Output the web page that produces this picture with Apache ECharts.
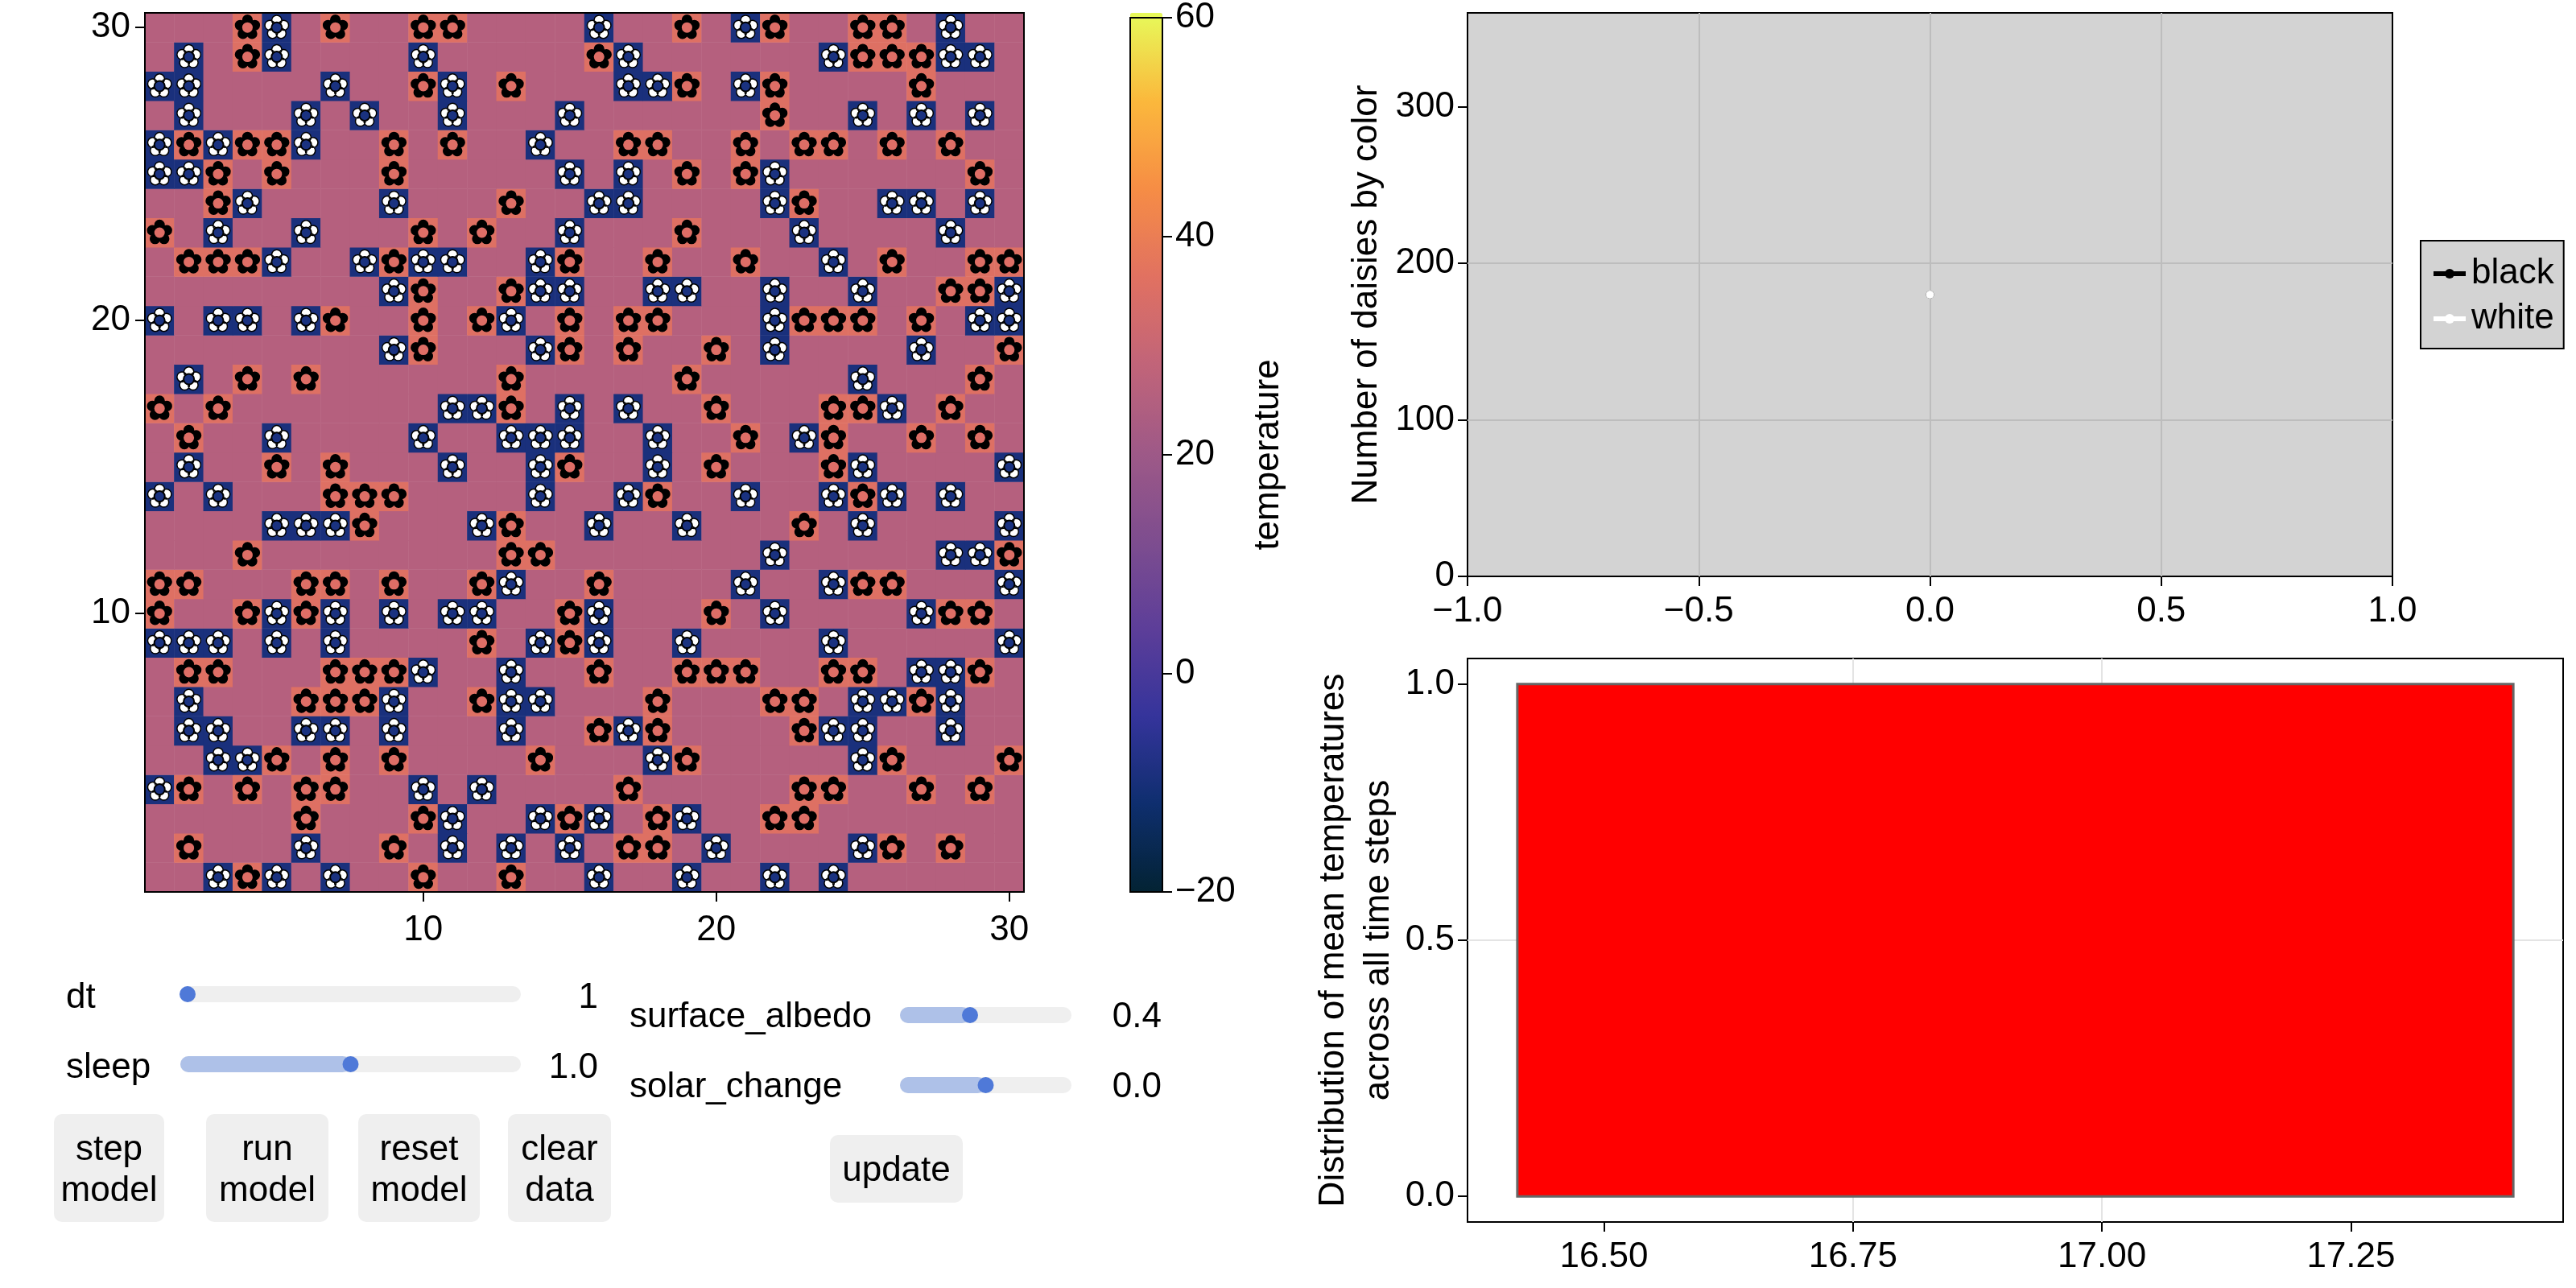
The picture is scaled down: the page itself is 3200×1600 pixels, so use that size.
<!DOCTYPE html>
<html>
<head>
<meta charset="utf-8">
<title>Daisyworld</title>
<script src="https://cdn.jsdelivr.net/npm/echarts@6/dist/echarts.min.js"></script>
<style>
  html, body { margin: 0; padding: 0; background: #fff; }
  #main { width: 3200px; height: 1600px; }
</style>
</head>
<body>
<div id="main"></div>
<script>
// grid columns holding a daisy, one list per row, row 30 first
var blackDaisies = [
  [4,7,10,11,19,22,25,26],
  [4,16,25,26,27],
  [10,13,19,22,27],
  [22],
  [2,4,5,9,11,17,18,21,23,24,26,28],
  [3,5,9,19,21,29],
  [3,13,23],
  [1,10,12,19],
  [2,3,4,9,15,18,21,26,29,30],
  [10,13,28,29],
  [7,10,12,15,17,18,23,24,25,27],
  [10,15,17,20,30],
  [4,6,13,19,29],
  [1,3,13,20,24,25,28],
  [2,21,24,27,29],
  [5,7,15,20,24],
  [7,8,9,18,25],
  [8,13,23],
  [4,13,14,30],
  [1,2,6,7,9,12,16,25,26],
  [1,4,6,15,20,28,29],
  [12,15],
  [2,3,7,8,9,16,19,20,21,24,25,29],
  [6,7,8,12,18,22,23,27],
  [16,18,23],
  [5,7,9,14,19,26,30],
  [2,4,6,7,17,23,24,27,29],
  [6,10,15,18,22,23],
  [2,9,17,18,26,28],
  [4,10,13]
];
var whiteDaisies = [
  [5,16,21,28],
  [2,5,10,17,24,28,29],
  [1,2,7,11,17,18,21],
  [2,6,8,11,15,25,27,29],
  [1,3,6,14],
  [1,2,15,17,22],
  [4,9,16,17,22,26,27,29],
  [3,6,15,23,28],
  [5,8,10,11,14,24],
  [9,14,15,18,19,22,25,30],
  [1,3,4,6,13,22,29,30],
  [9,14,22,27],
  [2,25],
  [11,12,15,17,26],
  [5,10,13,14,15,18,23],
  [2,11,14,18,25,30],
  [1,3,14,17,21,24,26,28],
  [5,6,7,12,16,19,25,30],
  [22,28,29],
  [13,21,24,30],
  [5,7,9,11,12,16,22,27],
  [1,2,3,5,7,14,16,19,24,30],
  [10,13,27,28],
  [2,9,13,14,25,26,28],
  [2,3,6,7,9,13,17,24,25,28],
  [3,4,18,25],
  [1,10,12],
  [11,14,16,19],
  [6,11,13,15,20,25],
  [3,5,7,16,19,22,24]
];

// surface temperature per cell kind
var groundTemp = 25.2;
var blackTemp = 35.2;
var whiteTemp = -9.6;

var thermalColors = ['#032333', '#0e2e6e', '#35349b', '#5d3e99', '#7e4d8f', '#9e5987',
                     '#c16479', '#e17161', '#f68d45', '#fbb83c', '#e7fa5a'];
var mapTicks = [10, 20, 30];
var colorbarMin = -20;
var colorbarMax = 60;

// time series panel
var steps = [0];
var blackCounts = [180];
var whiteCounts = [180];
var countTicks = [0, 100, 200, 300];
var stepTicks = [-1, -0.5, 0, 0.5, 1];

// histogram panel
var binStarts = [16.413];
var binEnds = [17.413];
var binCounts = [1];
var histXTicks = [16.5, 16.75, 17, 17.25];
var histYTicks = [0, 0.5, 1];

// controls
var sliderLabels = ['dt', 'sleep', 'surface_albedo', 'solar_change'];
var sliderValues = ['1', '1.0', '0.4', '0.0'];
var sliderFractions = [0, 0.5, 0.4, 0.5];
var leftButtons = ['step\nmodel', 'run\nmodel', 'reset\nmodel', 'clear\ndata'];

var font = '"Liberation Sans", Arial, sans-serif';
var fs = 44;
var yLabelPadding = [6, 0, 0, 0];

var cats = [];
for (var i = 1; i <= 30; i++) cats.push(String(i));

function isMapTick(idx) {
  return mapTicks.indexOf(idx + 1) >= 0;
}

var cells = [], blackPts = [], whitePts = [];
for (var y = 0; y < 30; y++) {
  for (var x = 0; x < 30; x++) cells.push([x, y, groundTemp]);
}
function cellIndex(col, row) { return (row - 1) * 30 + (col - 1); }
blackDaisies.forEach(function (cols, r) {
  var row = 30 - r;
  cols.forEach(function (c) {
    cells[cellIndex(c, row)][2] = blackTemp;
    blackPts.push([c - 1, row - 1]);
  });
});
whiteDaisies.forEach(function (cols, r) {
  var row = 30 - r;
  cols.forEach(function (c) {
    cells[cellIndex(c, row)][2] = whiteTemp;
    whitePts.push([c - 1, row - 1]);
  });
});

// five round petals in a 100 box, the two empty moves pin the box
function flowerPath() {
  var d = 'path://M0 0L0 0M100 100L100 100';
  var r = 20, dist = 29;
  for (var k = 0; k < 5; k++) {
    var a = (-90 + 72 * k) * Math.PI / 180;
    var cx = 50 + dist * Math.cos(a), cy = 50 + dist * Math.sin(a);
    d += 'M' + (cx - r) + ' ' + cy +
         'A' + r + ' ' + r + ' 0 1 0 ' + (cx + r) + ' ' + cy +
         'A' + r + ' ' + r + ' 0 1 0 ' + (cx - r) + ' ' + cy + 'Z';
  }
  return d;
}
var flower = flowerPath();

function minus(text) { return text.replace('-', '\u2212'); }

var tickStyle = { show: true, length: 12, lineStyle: { color: '#000', width: 2 } };
var noLine = { show: false, onZero: false };

function valueAxisLabel(digits, values, margin, padding) {
  return {
    show: true, customValues: values, color: '#000', fontSize: fs, fontFamily: font, margin: margin,
    padding: padding || 0,
    formatter: function (v) { return minus(Number(v).toFixed(digits)); }
  };
}

// sliders and buttons
var gfx = [];
function addText(text, x, y, align) {
  gfx.push({ type: 'text', silent: true, z: 10, style: {
    text: text, x: x, y: y, fill: '#000', fontSize: fs, fontFamily: font,
    align: align, verticalAlign: 'middle', lineHeight: 51
  }});
}
function addSlider(i, labelX, x0, x1, cy, valueX, valueAlign, textDy) {
  addText(sliderLabels[i], labelX, cy + textDy, 'left');
  addText(sliderValues[i], valueX, cy + textDy, valueAlign);
  var hx = x0 + 9 + (x1 - x0 - 18) * sliderFractions[i];
  gfx.push({ type: 'rect', silent: true, z: 10, shape: { x: x0, y: cy - 10, width: x1 - x0, height: 20, r: 10 },
    style: { fill: '#efefef' } });
  if (sliderFractions[i] > 0) {
    gfx.push({ type: 'rect', silent: true, z: 10, shape: { x: x0, y: cy - 10, width: hx - x0, height: 20, r: 10 },
      style: { fill: '#aec1e8' } });
  }
  gfx.push({ type: 'circle', silent: true, z: 11, shape: { cx: hx, cy: cy, r: 10 }, style: { fill: '#4f79d8' } });
}
function addButton(text, x0, x1, y0, y1) {
  gfx.push({ type: 'rect', silent: true, z: 10, shape: { x: x0, y: y0, width: x1 - x0, height: y1 - y0, r: 10 },
    style: { fill: '#efefef' } });
  addText(text, (x0 + x1) / 2, (y0 + y1) / 2 + 3, 'center');
}
addSlider(0, 82, 224, 647, 1235, 743, 'right', 5);
addSlider(1, 82, 224, 647, 1322, 743, 'right', 5);
addSlider(2, 782, 1118, 1331, 1261, 1443, 'right', 3);
addSlider(3, 782, 1118, 1331, 1348, 1443, 'right', 3);
addButton(leftButtons[0], 67, 204, 1384, 1518);
addButton(leftButtons[1], 256, 408, 1384, 1518);
addButton(leftButtons[2], 445, 596, 1384, 1518);
addButton(leftButtons[3], 631, 759, 1384, 1518);
addButton('update', 1031, 1196, 1410, 1494);

var myChart = echarts.init(document.getElementById('main'));

var option = {
  animation: false,
  backgroundColor: '#fff',
  textStyle: { fontFamily: font },
  graphic: gfx,
  grid: [
    { left: 180, top: 16, width: 1092, height: 1092, show: true, z: 5, backgroundColor: 'transparent', borderColor: '#000', borderWidth: 2 },
    { left: 1404, top: 16, width: 40, height: 1092, show: true, z: 5, backgroundColor: 'transparent', borderColor: '#000', borderWidth: 2 },
    { left: 1823, top: 16, width: 1149, height: 700, show: true, backgroundColor: '#d3d3d3', borderColor: '#000', borderWidth: 2 },
    { left: 1823, top: 818, width: 1361, height: 700, show: true, backgroundColor: '#fff', borderColor: '#000', borderWidth: 2 }
  ],
  xAxis: [
    {
      gridIndex: 0, type: 'category', data: cats, axisLine: noLine, z: 6,
      axisTick: { show: true, alignWithLabel: true, interval: isMapTick, length: 12, lineStyle: { color: '#000', width: 2 } },
      axisLabel: { color: '#000', fontSize: fs, fontFamily: font, margin: 26, interval: isMapTick, hideOverlap: false }
    },
    { gridIndex: 1, type: 'value', min: 0, max: 1, show: false },
    {
      gridIndex: 2, type: 'value', min: -1, max: 1, axisLine: noLine,
      axisTick: { show: true, length: 12, customValues: stepTicks, lineStyle: { color: '#000', width: 2 } },
      axisLabel: valueAxisLabel(1, stepTicks, 22),
      splitLine: { show: true, showMinLine: false, showMaxLine: false, lineStyle: { color: '#bdbdbd', width: 2 } }
    },
    {
      gridIndex: 3, type: 'value', min: 16.363, max: 17.463, axisLine: noLine,
      axisTick: { show: true, length: 12, customValues: histXTicks, lineStyle: { color: '#000', width: 2 } },
      axisLabel: valueAxisLabel(2, histXTicks, 22),
      splitLine: { show: true, showMinLine: false, showMaxLine: false, lineStyle: { color: '#e4e4e4', width: 2 } }
    }
  ],
  yAxis: [
    {
      gridIndex: 0, type: 'category', data: cats, axisLine: noLine, z: 6,
      axisTick: { show: true, alignWithLabel: true, interval: isMapTick, length: 12, lineStyle: { color: '#000', width: 2 } },
      axisLabel: { color: '#000', fontSize: fs, fontFamily: font, margin: 18, interval: isMapTick, hideOverlap: false, padding: yLabelPadding }
    },
    {
      gridIndex: 1, type: 'value', position: 'right', min: colorbarMin, max: colorbarMax, interval: 20, z: 6,
      axisLine: noLine, axisTick: tickStyle, splitLine: { show: false },
      axisLabel: { color: '#000', fontSize: fs, fontFamily: font, margin: 16, padding: yLabelPadding,
        formatter: function (v) { return minus(String(v)); } },
      name: 'temperature', nameLocation: 'middle', nameRotate: 90, nameGap: 110,
      nameTextStyle: { color: '#000', fontSize: fs, fontFamily: font }
    },
    {
      gridIndex: 2, type: 'value', min: 0, max: 360, axisLine: noLine,
      axisTick: { show: true, length: 12, customValues: countTicks, lineStyle: { color: '#000', width: 2 } },
      axisLabel: {
        show: true, customValues: countTicks, color: '#000', fontSize: fs, fontFamily: font, margin: 16, padding: yLabelPadding
      },
      splitLine: { show: true, showMinLine: false, showMaxLine: false, lineStyle: { color: '#bdbdbd', width: 2 } },
      name: 'Number of daisies by color', nameLocation: 'middle', nameRotate: 90, nameGap: 103,
      nameTextStyle: { color: '#000', fontSize: fs, fontFamily: font }
    },
    {
      gridIndex: 3, type: 'value', min: -0.05, max: 1.05, axisLine: noLine,
      axisTick: { show: true, length: 12, customValues: histYTicks, lineStyle: { color: '#000', width: 2 } },
      axisLabel: valueAxisLabel(1, histYTicks, 16, yLabelPadding),
      splitLine: { show: true, showMinLine: false, showMaxLine: false, lineStyle: { color: '#e4e4e4', width: 2 } },
      name: 'Distribution of mean temperatures\nacross all time steps',
      nameLocation: 'middle', nameRotate: 90, nameGap: 82,
      nameTextStyle: { color: '#000', fontSize: fs, fontFamily: font, lineHeight: 56, align: 'center' }
    }
  ],
  visualMap: {
    type: 'continuous', seriesIndex: 0, min: colorbarMin, max: colorbarMax, calculable: false,
    realtime: false, hoverLink: false, text: null, showLabel: false,
    left: 1404, top: 16, itemWidth: 40, itemHeight: 1092, padding: 0, z: 4,
    inRange: { color: thermalColors }
  },
  legend: {
    data: ['black', 'white'], orient: 'vertical', left: 3007, top: 299,
    backgroundColor: '#d3d3d3', borderColor: '#000', borderWidth: 2, borderRadius: 0,
    padding: [19, 12, 15, 13], itemGap: 12, itemWidth: 40, itemHeight: 15, selectedMode: false,
    lineStyle: { width: 6 },
    textStyle: { color: '#000', fontSize: fs, fontFamily: font, padding: [0, 0, 0, 2] }
  },
  series: [
    {
      type: 'heatmap', xAxisIndex: 0, yAxisIndex: 0, data: cells, progressive: 0, silent: true,
      itemStyle: { borderWidth: 0 }, emphasis: { disabled: true }
    },
    {
      name: 'white petals', type: 'scatter', xAxisIndex: 0, yAxisIndex: 0, data: whitePts, silent: true,
      symbol: flower, symbolSize: 31, z: 3, itemStyle: { color: '#fff', borderColor: '#000', borderWidth: 1.5, opacity: 1 }
    },
    {
      name: 'white centers', type: 'scatter', xAxisIndex: 0, yAxisIndex: 0, data: whitePts, silent: true,
      symbol: 'circle', symbolSize: 13, z: 4, itemStyle: { color: '#1a3280', borderColor: '#000', borderWidth: 2, opacity: 1 }
    },
    {
      name: 'black petals', type: 'scatter', xAxisIndex: 0, yAxisIndex: 0, data: blackPts, silent: true,
      symbol: flower, symbolSize: 33, z: 3, itemStyle: { color: '#000', opacity: 1 }
    },
    {
      name: 'black centers', type: 'scatter', xAxisIndex: 0, yAxisIndex: 0, data: blackPts, silent: true,
      symbol: 'circle', symbolSize: 13, z: 4, itemStyle: { color: '#de6e66', opacity: 1 }
    },
    {
      name: 'black', type: 'line', xAxisIndex: 2, yAxisIndex: 2, silent: true,
      data: steps.map(function (s, k) { return [s, blackCounts[k]]; }),
      showSymbol: true, showAllSymbol: true, symbol: 'circle', symbolSize: 10,
      itemStyle: { color: '#000' }, lineStyle: { color: '#000', width: 6 }
    },
    {
      name: 'white', type: 'line', xAxisIndex: 2, yAxisIndex: 2, silent: true,
      data: steps.map(function (s, k) { return [s, whiteCounts[k]]; }),
      showSymbol: true, showAllSymbol: true, symbol: 'circle', symbolSize: 10,
      itemStyle: { color: '#fff' }, lineStyle: { color: '#fff', width: 6 }
    },
    {
      name: 'mean temperature', type: 'custom', xAxisIndex: 3, yAxisIndex: 3, silent: true,
      data: binStarts.map(function (s, k) { return [s, binEnds[k], binCounts[k]]; }),
      encode: { x: [0, 1], y: 2 },
      renderItem: function (params, api) {
        var a = api.coord([api.value(0), 0]);
        var b = api.coord([api.value(1), api.value(2)]);
        return {
          type: 'rect',
          shape: { x: a[0], y: b[1], width: b[0] - a[0], height: a[1] - b[1] },
          style: { fill: '#ff0000', stroke: '#666666', lineWidth: 3 }
        };
      }
    }
  ]
};

myChart.setOption(option);
</script>
</body>
</html>
